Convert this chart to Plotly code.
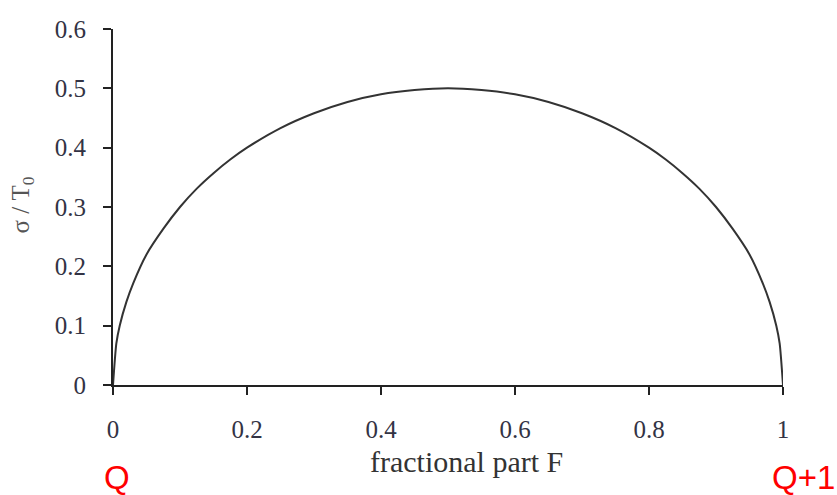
import plotly.graph_objects as go

# Values
frac_F = [0, 0.005, 0.01, 0.02, 0.03, 0.05, 0.075, 0.1, 0.125, 0.15, 0.175, 0.2, 0.25, 0.3,
          0.35, 0.4, 0.45, 0.5, 0.55, 0.6, 0.65, 0.7, 0.75, 0.8, 0.825, 0.85, 0.875,
          0.9, 0.925, 0.95, 0.97, 0.98, 0.99, 0.995, 1]
sigma_T0 = [0, 0.07, 0.10, 0.14, 0.171, 0.22, 0.263, 0.30, 0.331, 0.357, 0.38, 0.40, 0.433,
            0.458, 0.477, 0.49, 0.497, 0.50, 0.497, 0.49, 0.477, 0.458, 0.433, 0.40, 0.38,
            0.357, 0.331, 0.30, 0.263, 0.22, 0.171, 0.14, 0.10, 0.07, 0]
x_ticks = [0, 0.2, 0.4, 0.6, 0.8, 1]
x_tick_labels = ["0", "0.2", "0.4", "0.6", "0.8", "1"]
y_ticks = [0, 0.1, 0.2, 0.3, 0.4, 0.5, 0.6]
y_tick_labels = ["0", "0.1", "0.2", "0.3", "0.4", "0.5", "0.6"]

serif = "Liberation Serif"

fig = go.Figure(go.Scatter(x=frac_F, y=sigma_T0, mode="lines",
                           line=dict(color="#333333", width=2, shape="spline", smoothing=0.6),
                           hoverinfo="skip"))

fig.update_layout(
    width=837, height=495,
    margin=dict(l=113, r=54, t=29, b=110),
    paper_bgcolor="white", plot_bgcolor="white",
    showlegend=False,
    font=dict(family=serif, color="#333333"),
)
fig.update_xaxes(range=[0, 1], tickvals=x_ticks, ticktext=x_tick_labels,
                 showgrid=False, zeroline=False, showline=True, linecolor="#222222", linewidth=2,
                 ticks="outside", ticklen=8, tickwidth=2, tickcolor="#222222",
                 tickfont=dict(family=serif, size=25, color="#333344"),
                 ticklabelstandoff=13)
fig.update_yaxes(range=[0, 0.6], tickvals=y_ticks, ticktext=y_tick_labels,
                 showgrid=False, zeroline=False, showline=True, linecolor="#222222", linewidth=2,
                 ticks="outside", ticklen=8, tickwidth=2, tickcolor="#222222",
                 tickfont=dict(family=serif, size=25, color="#333344"),
                 ticklabelstandoff=12)

fig.add_annotation(text="fractional part F", x=0.527, y=-0.216, xref="x", yref="paper",
                   showarrow=False, xanchor="center", yanchor="middle",
                   font=dict(family=serif, size=30, color="#333333"))
fig.add_annotation(text="σ / T<sub>0</sub>", x=-0.135, y=0.506, xref="paper", yref="paper",
                   showarrow=False, xanchor="center", yanchor="middle", textangle=-90,
                   font=dict(family=serif, size=25, color="#555555"))
fig.add_annotation(text="Q", x=0.006, y=-0.261, xref="x", yref="paper",
                   showarrow=False, xanchor="center", yanchor="middle",
                   font=dict(family="Liberation Sans", size=33, color="#ff0000"))
fig.add_annotation(text="Q+1", x=0.980, y=-0.261, xref="x", yref="paper",
                   showarrow=False, xanchor="left", yanchor="middle",
                   font=dict(family="Liberation Sans", size=33, color="#ff0000"))

fig.write_html("out.html")
